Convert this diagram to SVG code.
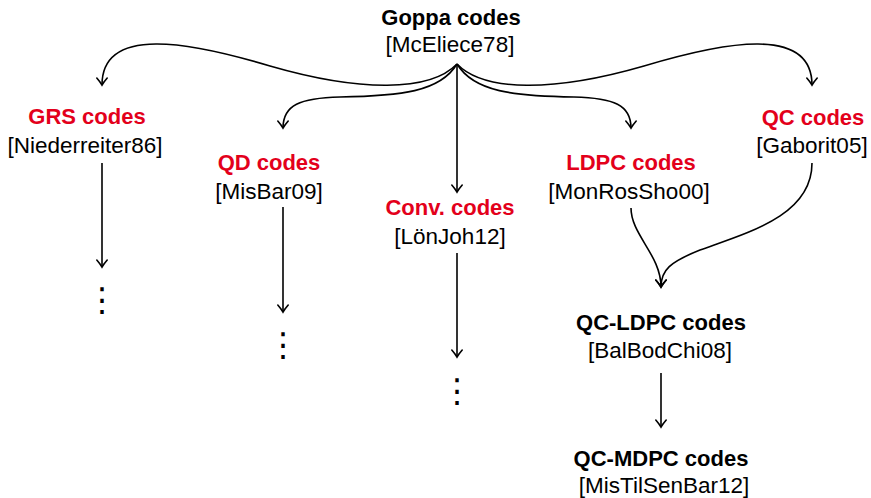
<svg xmlns="http://www.w3.org/2000/svg" width="871" height="498" viewBox="0 0 871 498">
<defs>
<style>
text{font-family:"Liberation Sans",Arial,sans-serif;font-size:22.5px;text-anchor:middle;fill:#000}
.t{font-weight:bold;font-size:22px}
.r{fill:#e3001b}
.dots{font-family:"DejaVu Sans",sans-serif;font-size:33px}
.c{fill:none;stroke:#000;stroke-width:1.6;marker-end:url(#ah)}
</style>
<marker id="ah" markerUnits="userSpaceOnUse" viewBox="-9 -7 11 14" refX="0" refY="0" markerWidth="11" markerHeight="14" orient="auto">
<path d="M-7,-5.2 Q-2.5,-1.4 0,0 Q-2.5,1.4 -7,5.2" fill="none" stroke="#000" stroke-width="1.6" stroke-linecap="round"/>
</marker>
</defs>
<rect width="871" height="498" fill="#fff"/>
<g id="connectors">
<path class="c" d="M457,64 C430,92 360,92 270,66 C190,42 102,25 102,85"/>
<path class="c" d="M457,64 C484,92 554,92 644,66 C724,42 812,25 812,85"/>
<path class="c" d="M457,64 C440,92 400,96 340,97 C300,98 283,105 283,128"/>
<path class="c" d="M457,64 C474,92 514,96 574,97 C614,98 631,105 631,128"/>
<path class="c" d="M457,64 L457,192"/>
<path class="c" d="M102,163 L102,267"/>
<path class="c" d="M283,207 L283,312"/>
<path class="c" d="M457,253 L457,357"/>
<path class="c" d="M631,208 C631,235 661,255 661,287"/>
<path class="c" d="M812,163 C812,215 750,232 700,250 C670,262 661,270 661,287"/>
<path class="c" d="M661,373 L661,427"/>
</g>
<g id="goppa"><text class="t" x="451" y="25">Goppa codes</text><text x="450" y="52">[McEliece78]</text></g>
<g id="grs"><text class="t r" x="87" y="124">GRS codes</text><text x="85" y="153">[Niederreiter86]</text></g>
<g id="qd"><text class="t r" x="269" y="170">QD codes</text><text x="269" y="199">[MisBar09]</text></g>
<g id="conv"><text class="t r" x="450" y="215">Conv. codes</text><text x="450" y="244">[LönJoh12]</text></g>
<g id="ldpc"><text class="t r" x="631" y="170">LDPC codes</text><text x="629" y="199">[MonRosSho00]</text></g>
<g id="qc"><text class="t r" x="813" y="125">QC codes</text><text x="812" y="153">[Gaborit05]</text></g>
<g id="qcldpc"><text class="t" x="661" y="330">QC-LDPC codes</text><text x="660" y="358">[BalBodChi08]</text></g>
<g id="qcmdpc"><text class="t" x="661" y="466">QC-MDPC codes</text><text x="664" y="493">[MisTilSenBar12]</text></g>
<g id="dots1"><text class="dots" x="102" y="311">⋮</text></g>
<g id="dots2"><text class="dots" x="283" y="356">⋮</text></g>
<g id="dots3"><text class="dots" x="457" y="402">⋮</text></g>
</svg>
